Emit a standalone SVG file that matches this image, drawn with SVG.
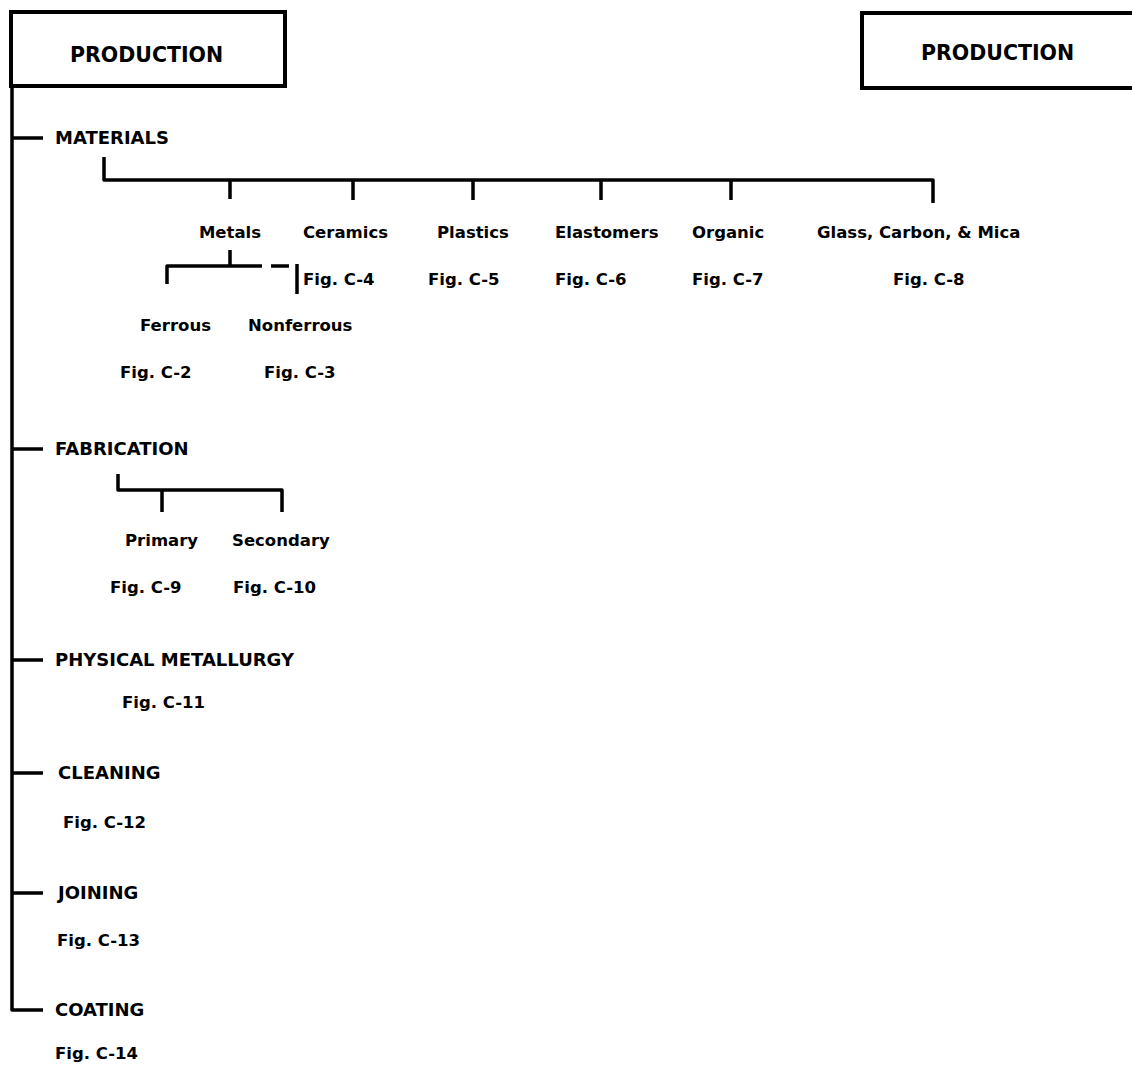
<svg xmlns="http://www.w3.org/2000/svg" width="1132" height="1065" viewBox="0 0 1132 1065">
  <style>
    .bg { fill: #ffffff; }
    .box { fill: #ffffff; stroke: #000000; stroke-width: 4; }
    .ln { fill: none; stroke: #000000; stroke-width: 3.5; stroke-linejoin: round; stroke-linecap: butt; }
    .t { font-family: "DejaVu Sans", "Liberation Sans", sans-serif; font-weight: bold; fill: #000000; }
    .head { font-size: 20.5px; }
    .cap { font-size: 18px; }
    .lbl { font-size: 16.5px; }
  </style>
  <rect class="bg" x="0" y="0" width="1132" height="1065"/>

  <!-- tree lines -->
  <g id="connectors">
    <!-- main spine with branch ticks -->
    <path class="ln" d="M12,86 V1010 H43"/>
    <path class="ln" d="M12,138 H43 M12,449 H43 M12,660 H43 M12,773 H43 M12,893 H43"/>
    <!-- materials bracket -->
    <path class="ln" d="M104,157 V180 H933 V203"/>
    <path class="ln" d="M230,180 V199 M353,180 V200 M473,180 V200 M601,180 V200 M731,180 V200"/>
    <!-- metals bracket -->
    <path class="ln" d="M230,250 V266 M167,284 V266 H262 M271,266 H289 M297,264 V294"/>
    <!-- fabrication bracket -->
    <path class="ln" d="M118,474 V490 H282 V512 M162,490 V512"/>
  </g>

  <g id="production-left">
    <rect class="box" x="11" y="12" width="274" height="74"/>
    <text class="t head" x="70" y="62">PRODUCTION</text>
  </g>
  <g id="production-right">
    <rect class="box" x="862" y="13" width="290" height="75"/>
    <text class="t head" x="921" y="60">PRODUCTION</text>
  </g>

  <g id="materials">
    <text class="t cap" x="55" y="144">MATERIALS</text>
  </g>
  <g id="metals">
    <text class="t lbl" x="230" y="238" text-anchor="middle">Metals</text>
  </g>
  <g id="ceramics">
    <text class="t lbl" x="303" y="238">Ceramics</text>
    <text class="t lbl" x="303" y="285">Fig. C-4</text>
  </g>
  <g id="plastics">
    <text class="t lbl" x="437" y="238">Plastics</text>
    <text class="t lbl" x="428" y="285">Fig. C-5</text>
  </g>
  <g id="elastomers">
    <text class="t lbl" x="555" y="238">Elastomers</text>
    <text class="t lbl" x="555" y="285">Fig. C-6</text>
  </g>
  <g id="organic">
    <text class="t lbl" x="692" y="238">Organic</text>
    <text class="t lbl" x="692" y="285">Fig. C-7</text>
  </g>
  <g id="glass-carbon-mica">
    <text class="t lbl" x="817" y="238">Glass, Carbon, &amp; Mica</text>
    <text class="t lbl" x="893" y="285">Fig. C-8</text>
  </g>
  <g id="ferrous">
    <text class="t lbl" x="140" y="331">Ferrous</text>
    <text class="t lbl" x="120" y="378">Fig. C-2</text>
  </g>
  <g id="nonferrous">
    <text class="t lbl" x="248" y="331">Nonferrous</text>
    <text class="t lbl" x="264" y="378">Fig. C-3</text>
  </g>

  <g id="fabrication">
    <text class="t cap" x="55" y="455">FABRICATION</text>
  </g>
  <g id="primary">
    <text class="t lbl" x="125" y="546">Primary</text>
    <text class="t lbl" x="110" y="593">Fig. C-9</text>
  </g>
  <g id="secondary">
    <text class="t lbl" x="232" y="546">Secondary</text>
    <text class="t lbl" x="233" y="593">Fig. C-10</text>
  </g>

  <g id="physical-metallurgy">
    <text class="t cap" x="55" y="666">PHYSICAL METALLURGY</text>
    <text class="t lbl" x="122" y="708">Fig. C-11</text>
  </g>
  <g id="cleaning">
    <text class="t cap" x="58" y="779">CLEANING</text>
    <text class="t lbl" x="63" y="828">Fig. C-12</text>
  </g>
  <g id="joining">
    <text class="t cap" x="58" y="899">JOINING</text>
    <text class="t lbl" x="57" y="946">Fig. C-13</text>
  </g>
  <g id="coating">
    <text class="t cap" x="55" y="1016">COATING</text>
    <text class="t lbl" x="55" y="1059">Fig. C-14</text>
  </g>
</svg>
